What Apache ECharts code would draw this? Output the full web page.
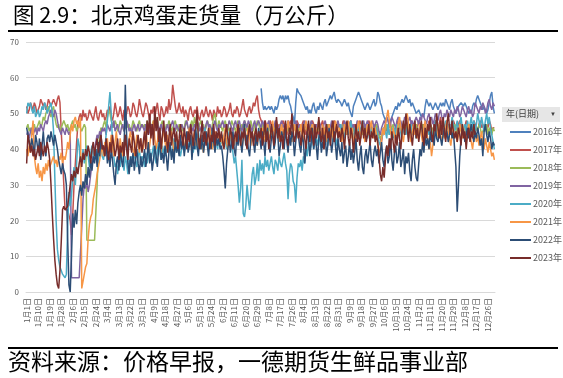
<!DOCTYPE html>
<html>
<head>
<meta charset="utf-8">
<script src="https://cdn.jsdelivr.net/npm/echarts@6/dist/echarts.min.js"></script>
<style>
html, body { margin: 0; padding: 0; background: #fff; }
#main { width: 563px; height: 378px; }
</style>
</head>
<body>
<div id="main"></div>
<script>
// 闰年日历, 横轴 1月1日 ~ 12月31日
var monthDays = [31, 29, 31, 30, 31, 30, 31, 31, 30, 31, 30, 31];
var years = ['2016年', '2017年', '2018年', '2019年', '2020年', '2021年', '2022年', '2023年'];
var colors = ['#4F81BD', '#C0504D', '#9BBB59', '#8064A2', '#4BACC6', '#F79646', '#2C4D75', '#772C2A'];
var yTicks = [0, 10, 20, 30, 40, 50, 60, 70];

// 2016年 数据从 7月1日 开始
var start2016 = 182;
var s2016 = [
    null,57,53,51,52,51,51,52,51,52,51,50,52,51,52,54,55,54,55,53,55,54,55,53,52,50,49,47,53,57,56,
    56,55,54,53,53,51,52,50,51,50,52,53,51,50,52,51,53,52,51,53,54,52,53,54,55,54,55,56,54,53,54,
    54,53,52,53,54,53,52,53,51,50,49,52,53,54,55,56,55,54,53,52,51,52,53,52,51,52,53,54,52,53,
    56,55,53,52,50,49,48,49,48,47,48,49,50,51,52,51,53,52,53,54,53,54,55,54,53,54,52,53,52,51,50,
    50,51,50,49,50,49,52,54,53,52,53,52,51,52,53,52,51,52,53,52,53,52,54,53,52,51,53,54,52,51,
    50,51,52,52,53,53,52,53,52,51,50,51,50,52,53,52,54,55,54,53,52,51,52,51,50,51,53,55,56,52,50
];
var s2017 = [
    52,50,51,53,52,51,53,52,50,51,52,54,53,52,53,51,52,54,53,52,53,54,53,52,54,55,53,45,38,30,23,
    23,23,23,20,16,22,30,36,42,47,49,50,48,51,49,50,48,49,51,50,49,48,50,52,49,48,50,51,49,
    50,48,49,51,50,52,49,48,50,53,51,49,50,52,50,48,51,49,50,52,51,49,50,53,52,50,49,51,54,52,50,
    49,51,53,52,50,48,51,50,52,49,51,53,50,48,52,51,49,50,52,50,54,51,53,58,55,52,50,51,53,51,
    50,52,49,51,50,48,51,52,50,49,51,50,52,49,48,50,51,49,50,52,50,49,51,50,48,51,50,49,52,50,51,
    49,50,52,51,49,50,51,53,50,49,51,50,52,51,49,50,52,54,51,50,49,51,52,50,51,53,52,54,55,51,
    49,48,47,46,48,47,45,46,48,47,46,45,47,48,46,47,45,46,48,47,46,44,46,47,48,46,45,47,46,48,47,
    46,45,47,48,46,44,46,47,45,46,48,47,45,46,47,44,46,47,48,46,45,47,46,44,45,47,46,48,47,45,46,
    47,45,46,48,47,45,44,46,47,48,46,45,47,46,44,46,48,47,45,46,47,45,46,48,47,46,44,45,47,46,
    45,44,43,42,45,46,47,45,46,48,47,45,46,44,46,47,48,46,45,47,46,44,46,47,45,46,48,47,46,45,47,
    46,48,47,45,46,47,45,44,46,48,47,46,45,47,48,46,45,47,49,47,46,45,47,48,46,45,47,46,48,47,
    46,45,47,48,46,47,45,46,48,47,46,45,47,46,48,47,46,45,47,48,46,47,45,46,47,46,48,47,45,46,46
];
var s2018 = [
    46,47,45,46,44,46,47,45,46,47,48,46,47,49,48,50,51,52,50,49,51,52,49,47,46,47,45,46,47,48,47,
    46,47,45,46,47,48,46,47,45,46,47,46,45,46,47,46,14.5,14.5,14.5,14.5,14.5,14.5,14.5,14.5,30,40,44,46,45,
    47,48,46,49,51,50,48,47,46,48,47,45,46,48,47,46,45,47,48,46,47,45,46,48,47,46,45,47,48,46,47,
    46,47,45,48,47,46,45,47,48,46,47,49,46,45,47,48,46,45,47,46,48,47,45,46,47,48,46,45,47,46,
    47,45,46,48,47,46,45,47,48,46,49,47,46,45,47,48,46,47,45,46,48,47,46,45,47,49,50,47,46,48,47,
    46,45,47,48,46,47,45,46,48,47,46,45,47,48,46,45,47,46,48,47,45,46,47,48,46,45,47,46,48,47,
    46,45,47,46,44,45,47,46,45,44,46,47,45,46,44,45,47,46,45,44,46,47,45,46,44,45,46,47,45,44,46,
    45,46,44,45,47,46,45,44,46,45,47,46,44,45,46,45,47,44,45,46,44,45,47,46,45,44,46,45,47,46,45,
    44,46,45,47,46,44,45,46,45,47,44,46,45,44,46,47,45,46,44,45,46,45,47,44,46,45,44,46,45,47,
    46,44,43,44,45,46,45,47,46,44,45,46,47,45,44,46,45,47,46,44,45,46,45,47,44,46,45,44,46,45,47,
    45,44,46,45,47,46,44,45,46,45,47,46,44,45,46,45,47,44,46,45,44,46,47,45,46,44,45,46,45,47,
    46,44,45,46,45,47,44,46,45,44,46,47,45,46,44,45,46,45,47,46,44,45,46,45,47,44,46,45,44,46,45
];
var s2019 = [
    44,45,43,45,46,44,45,46,44,46,45,47,46,45,47,48,47,49,50,51,50,49,51,50,48,46,45,44,46,45,44,
    46,45,44,45,4,4,4,4,4,4,4,4,18,26,30,29,31,28,30,33,36,38,40,42,44,43,45,44,46,
    45,46,44,47,46,45,47,46,48,45,46,47,45,44,46,47,45,46,48,47,45,46,44,46,47,45,46,47,45,46,47,
    46,45,47,46,44,45,47,46,45,47,46,48,45,46,47,45,46,44,46,47,45,46,47,48,46,45,47,46,45,46,
    47,46,45,47,48,46,45,47,46,45,47,46,48,47,45,46,47,46,45,47,48,46,47,45,46,47,48,46,45,47,46,
    47,48,46,47,45,46,48,47,46,45,47,48,46,47,48,46,45,47,48,47,46,48,47,46,45,47,48,46,47,48,
    47,46,48,47,45,46,47,48,46,45,47,46,48,47,46,45,47,48,46,47,45,46,48,47,46,47,45,46,48,47,46,
    47,46,45,47,48,46,47,45,46,48,47,46,45,47,46,48,47,45,46,47,48,46,45,47,46,48,47,46,45,47,48,
    46,47,45,46,48,47,46,45,47,48,46,47,45,46,48,47,46,45,47,48,46,47,48,46,45,47,48,46,47,48,
    47,45,44,46,47,48,47,49,48,46,47,49,48,47,46,48,49,47,48,46,47,49,48,47,48,49,47,48,46,48,49,
    48,47,49,48,50,49,48,47,49,50,48,49,47,48,50,49,48,50,51,49,48,50,49,51,50,49,51,50,49,51,
    50,52,51,49,50,52,51,50,49,51,52,50,51,49,50,53,52,51,50,52,51,53,52,50,51,53,54,52,51,53,52
];
var s2020 = [
    50,53,52,53,51,50,52,49,50,51,49,50,52,51,53,52,50,51,52,53,50,45,32,20,12,9,7,6,5,5,4,
    5,18,28,24,27,32,35,30,36,43,41,35,37,40,36,38,41,38,35,39,41,38,37,40,38,36,39,41,38,
    37,40,44,48,52,56,50,42,38,35,36,33,37,35,39,36,34,38,36,33,37,35,38,36,39,37,35,38,40,36,38,
    37,35,39,36,38,40,37,39,41,38,36,40,42,39,37,41,39,38,40,42,39,41,38,40,43,41,39,42,40,38,
    40,42,39,41,43,40,42,44,41,39,42,40,43,45,42,40,41,43,46,44,42,40,43,45,41,43,44,42,40,43,41,
    42,44,41,43,40,42,45,43,41,39,36,38,34,30,25,29,37,22,21,24,30,26,23,28,33,35,30,32,36,31,
    37,34,36,33,38,35,37,34,36,38,35,33,37,36,34,38,36,35,37,39,36,34,26,33,36,35,31,30,25,32,36,
    35,37,34,38,36,40,38,42,39,41,44,40,42,43,41,44,42,40,43,45,42,44,41,43,46,44,42,45,43,41,44,
    45,47,44,46,43,45,47,44,46,48,45,43,46,44,47,45,43,46,48,45,44,46,43,45,47,44,46,45,43,46,
    44,42,41,43,44,46,45,43,47,44,46,45,43,46,44,47,45,43,46,44,45,47,44,46,43,45,47,44,46,45,43,
    46,44,45,47,43,46,44,45,47,44,46,45,43,46,48,45,44,46,47,45,44,46,48,45,47,44,46,49,47,45,
    46,48,45,47,49,46,44,47,45,48,46,47,49,46,48,45,47,50,48,46,49,47,45,48,50,47,49,46,44,42,40
];
var s2021 = [
    40,38,41,39,44,48,38,35,33,36,32,34,31,35,33,36,34,37,35,36,37,38,36,37,35,38,37,39,36,38,37,
    39,42,40,44,47,45,48,49,47,48,46,49,1,3,5,7,8,15,19,21,22,26,28,30,33,35,37,39,41,
    38,42,40,43,39,41,44,40,38,42,45,41,39,43,40,38,42,44,41,39,43,45,42,40,38,41,44,42,39,43,41,
    40,43,45,42,39,41,44,46,48,43,40,42,45,41,39,43,46,42,40,44,41,43,45,42,39,41,44,42,40,43,
    45,42,40,43,41,44,46,42,39,43,45,41,43,40,42,44,41,39,43,45,42,44,46,43,40,42,45,43,41,44,42,
    43,41,44,46,42,40,43,45,42,44,41,43,45,47,44,42,40,43,45,42,44,46,43,41,44,42,45,43,41,44,
    45,43,46,44,42,45,47,44,43,46,48,45,43,46,44,42,45,47,44,46,43,45,48,46,44,42,45,47,44,46,43,
    45,47,44,42,46,48,45,43,46,44,47,45,42,44,46,48,45,43,47,44,46,42,45,47,44,46,43,45,48,46,44,
    46,44,42,45,47,44,46,48,45,43,46,42,40,44,46,48,45,43,47,44,42,45,47,44,46,48,45,43,46,44,
    41,39,40,43,46,44,47,49,51,48,45,43,46,44,42,45,47,49,46,44,42,45,48,50,47,44,42,45,47,44,46,
    43,45,47,44,42,46,48,45,43,40,42,38,41,44,46,43,45,47,44,42,45,43,46,48,45,43,41,44,46,43,
    45,42,44,47,45,43,46,44,42,45,47,44,42,40,43,45,42,44,41,43,45,42,40,43,41,39,42,40,38,39,37
];
var s2022 = [
    46,44,42,40,43,41,38,44,42,39,43,37,41,45,40,38,43,44,42,45,43,41,44,42,40,37,35,33,36,34,33,
    30,15,2,0,10,22,18,23,19,25,28,30,27,31,29,33,30,35,32,37,34,38,36,40,35,42,38,44,40,
    41,38,42,36,39,35,40,37,33,30,36,38,34,40,37,35,39,58,44,36,33,38,35,39,34,37,40,36,33,38,35,
    37,40,35,38,42,36,39,34,37,41,38,35,40,43,37,39,36,41,38,34,39,42,37,40,36,43,39,41,38,44,
    40,43,38,42,45,39,41,44,37,42,40,46,41,38,43,40,44,39,42,45,41,38,43,40,46,42,39,44,41,43,40,
    41,38,34,29,36,40,43,39,42,45,40,38,44,41,46,42,39,43,47,41,44,40,38,43,45,42,39,44,41,46,
    43,40,45,42,38,44,46,41,39,43,45,40,42,47,44,38,41,45,43,40,46,42,39,44,41,45,43,38,42,46,44,
    41,39,44,42,36,40,45,43,38,42,46,40,44,41,37,43,45,39,42,40,44,38,41,46,43,39,42,45,41,37,43,
    40,38,42,36,39,41,35,38,42,37,40,36,39,43,37,34,38,41,35,33,38,40,36,39,42,37,35,39,41,38,
    40,36,39,42,37,35,39,41,36,38,43,37,34,39,41,36,38,42,35,37,40,33,38,36,39,34,31,37,40,35,32,
    31,36,40,38,42,39,44,41,43,40,45,42,44,41,46,43,42,45,43,41,44,46,43,45,42,44,46,43,45,40,
    35,22.5,30,38,43,46,45,42,44,46,43,45,47,44,42,45,43,46,44,41,43,38,45,47,44,42,45,43,40,42,41
];
var s2023 = [
    36,44,42,39,41,38,40,37,39,41,38,42,40,38,41,39,42,40,37,30,22,15,9,5,2,1,6,14,23,24,23,
    23,24,27,30,33,31,34,32,35,33,36,38,35,39,37,40,38,41,39,36,40,42,38,41,43,39,42,44,40,
    41,38,43,40,37,42,39,44,41,38,40,43,37,41,39,42,38,44,40,37,43,41,39,45,42,38,41,44,40,43,39,
    42,45,40,48,44,50,43,47,41,52,45,49,42,46,40,44,48,42,45,39,43,47,41,44,46,42,45,40,43,47,
    44,41,46,43,40,45,42,47,44,41,45,46,51,43,40,44,48,42,45,41,43,46,40,44,42,47,41,45,43,46,42,
    45,42,40,44,47,43,41,46,44,40,43,45,42,47,44,41,45,43,46,42,40,44,47,43,45,41,44,46,42,45,
    43,46,41,44,48,42,45,40,43,47,44,41,45,49,43,46,42,44,40,45,48,43,41,46,44,50,45,42,44,47,43,
    45,41,44,47,43,40,45,48,42,46,44,41,47,43,45,49,44,42,46,40,44,47,43,45,41,46,48,42,44,47,43,
    45,42,46,44,40,45,48,43,41,46,44,39,43,47,42,45,41,44,48,43,46,42,44,47,41,45,43,46,42,44,
    42,38,33,31,35,32,37,41,38,43,40,45,42,39,44,41,46,43,40,45,48,44,50,46,42,47,44,41,45,48,43,
    46,42,45,48,44,41,46,43,47,45,49,44,42,47,45,50,46,43,48,44,49,45,42,47,50,46,44,48,45,43,
    45,42,46,44,41,47,43,45,40,44,46,42,45,43,47,44
];

function buildDays() {
    var days = [];
    for (var m = 0; m < monthDays.length; ++m) {
        for (var d = 1; d <= monthDays[m]; ++d) {
            days.push((m + 1) + '月' + d + '日');
        }
    }
    return days;
}

function padFront(n, arr) {
    var out = [];
    for (var i = 0; i < n; ++i) {
        out.push(null);
    }
    return out.concat(arr);
}

var days = buildDays();
var seriesData = [padFront(start2016, s2016), s2017, s2018, s2019, s2020, s2021, s2022, s2023];

var series = [];
for (var i = 0; i < years.length; ++i) {
    series.push({
        name: years[i],
        type: 'line',
        symbol: 'none',
        smooth: false,
        connectNulls: false,
        lineStyle: { width: 1.5, color: colors[i] },
        itemStyle: { color: colors[i] },
        data: seriesData[i]
    });
}

var cjk = "'Noto Sans CJK SC', 'Noto Sans', sans-serif";

var option = {
    animation: false,
    backgroundColor: '#fff',
    textStyle: { fontFamily: cjk },
    title: {
        text: '图 2.9：北京鸡蛋走货量（万公斤）',
        left: 8,
        top: -1,
        textStyle: { fontSize: 21.5, fontWeight: 'normal', color: '#000', fontFamily: cjk }
    },
    grid: { left: 26, right: 68, top: 42, bottom: 86, containLabel: false },
    legend: {
        orient: 'vertical',
        left: 505,
        top: 121,
        icon: 'rect',
        itemWidth: 21,
        itemHeight: 2,
        itemGap: 6,
        data: years,
        textStyle: { fontSize: 9, color: '#595959', lineHeight: 12, padding: [0, 0, 0, -3] }
    },
    xAxis: {
        type: 'category',
        data: days,
        boundaryGap: true,
        axisLine: { lineStyle: { color: '#d9d9d9' } },
        axisTick: { show: false },
        axisLabel: { interval: 8, rotate: 90, fontSize: 8, color: '#595959', margin: 6 }
    },
    yAxis: {
        type: 'value',
        min: yTicks[0],
        max: yTicks[yTicks.length - 1],
        interval: 10,
        axisLine: { show: false },
        axisTick: { show: false },
        splitLine: { lineStyle: { color: '#d9d9d9', width: 1 } },
        axisLabel: { fontSize: 8, color: '#595959', margin: 7 }
    },
    graphic: [
        { type: 'rect', left: 8, top: 30, shape: { width: 550, height: 2 }, style: { fill: '#000' } },
        { type: 'rect', left: 502, top: 107, shape: { width: 58, height: 15 }, style: { fill: '#e6e6e6' } },
        { type: 'text', left: 506, top: 109, style: { text: '年(日期)', fontSize: 9, fill: '#404040', fontFamily: cjk } },
        { type: 'text', left: 550, top: 111, style: { text: '▼', fontSize: 6, fill: '#404040' } },
        { type: 'rect', left: 8, top: 347, shape: { width: 550, height: 2 }, style: { fill: '#000' } },
        { type: 'text', left: 8, top: 350, style: { text: '资料来源：价格早报，一德期货生鲜品事业部', fontSize: 23, fill: '#000', fontFamily: cjk } }
    ],
    series: series
};

echarts.init(document.getElementById('main')).setOption(option);
</script>
</body>
</html>
